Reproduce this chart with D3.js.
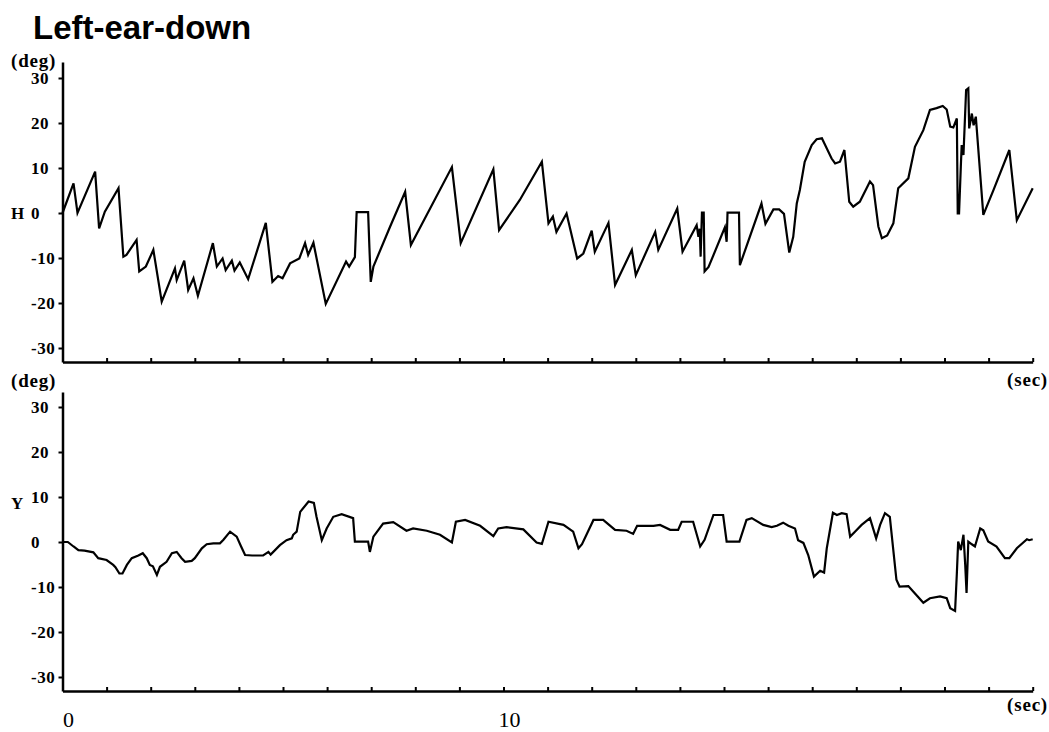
<!DOCTYPE html>
<html>
<head>
<meta charset="utf-8">
<script src="https://cdn.jsdelivr.net/npm/d3@7"></script>
<style>
  body { margin: 0; background: #fff; }
  svg { display: block; }
</style>
</head>
<body>
<div id="chart"></div>
<script>
// Head position traces, [sec, deg]
var hSeries = [
  [0, 0], [0.25, 6.6], [0.34, 0], [0.74, 9.2], [0.83, -3.4], [0.96, 0.3], [1.27, 5.5],
  [1.38, -9.7], [1.45, -9.3], [1.68, -6], [1.74, -13], [1.89, -11.9], [2.06, -8.2],
  [2.25, -19.7], [2.55, -12.3], [2.59, -14.9], [2.76, -10.6], [2.85, -17.1], [2.97, -14.5],
  [3.07, -18.4], [3.41, -6.7], [3.50, -11.9], [3.63, -10.1], [3.70, -12.7], [3.84, -10.6],
  [3.90, -12.8], [4.02, -11], [4.21, -14.7], [4.61, -2.2], [4.76, -15.3], [4.89, -14],
  [4.99, -14.5], [5.16, -11.2], [5.37, -10.1], [5.50, -6.7], [5.57, -9.3], [5.69, -6.6],
  [5.97, -20.2], [6.43, -10.8], [6.50, -11.9], [6.63, -9.8], [6.67, 0.2], [6.93, 0.2],
  [6.96, -7.8], [6.99, -15.3], [7.05, -11.9], [7.43, -3], [7.77, 4.7], [7.90, -7.1],
  [8.83, 10.2], [9.03, -6.7], [9.77, 9.7], [9.90, -3.8], [10.37, 2.9], [10.87, 11.4],
  [11.02, -2.3], [11.12, -0.8], [11.20, -4.2], [11.43, -0.1], [11.67, -10.1], [11.81, -9],
  [12.00, -3.9], [12.07, -8.6], [12.38, -2.2], [12.53, -16], [12.91, -8.2], [13.00, -13.8],
  [13.44, -4.2], [13.51, -8.2], [13.94, 1.0], [14.06, -8.6], [14.38, -2.7], [14.42, -5.3],
  [14.45, -3.5], [14.47, -9.7], [14.50, 0.1], [14.54, 0.1], [14.56, -13], [14.65, -12],
  [15.02, -3.2], [15.06, -6.4], [15.08, 0.1], [15.34, 0.1], [15.36, -11.6], [15.85, 2.1],
  [15.94, -2.4], [16.12, 0.8], [16.25, 0.8], [16.36, -0.2], [16.48, -8.8], [16.57, -5.3],
  [16.65, 2.1], [16.72, 5.1], [16.83, 11.4], [16.99, 15.1], [17.10, 16.4], [17.22, 16.6],
  [17.44, 12.1], [17.52, 11], [17.63, 11.4], [17.73, 14], [17.84, 2.5], [17.93, 1.4],
  [18.08, 2.5], [18.31, 7], [18.38, 6.2], [18.50, -3], [18.58, -5.6], [18.70, -5],
  [18.84, -2.3], [18.95, 5.5], [19.18, 7.7], [19.33, 14.7], [19.52, 18.4], [19.67, 22.9],
  [19.82, 23.3], [19.96, 23.8], [20.05, 23], [20.13, 19.2], [20.20, 19], [20.28, 21],
  [20.30, -0.1], [20.33, -0.1], [20.37, 10.3], [20.39, 15.1], [20.43, 12.9], [20.49, 27.3],
  [20.54, 27.7], [20.56, 18.8], [20.62, 22.1], [20.66, 19.5], [20.71, 21.4], [20.88, -0.4],
  [21.11, 5.1], [21.47, 14], [21.64, -1.6], [22.0, 5.5]
];

var ySeries = [
  [0, 0], [0.12, 0], [0.25, -1], [0.36, -1.8], [0.5, -1.9], [0.7, -2.3], [0.81, -3.6],
  [1.0, -4], [1.15, -5.1], [1.2, -5.6], [1.29, -7], [1.36, -7], [1.46, -5.1], [1.57, -3.6],
  [1.72, -3], [1.82, -2.5], [1.91, -3.6], [1.98, -5.1], [2.05, -5.4], [2.14, -7.3],
  [2.21, -5.5], [2.36, -4.4], [2.48, -2.5], [2.59, -2.2], [2.7, -3.6], [2.78, -4.4],
  [2.93, -4.2], [3.0, -3.6], [3.16, -1.4], [3.27, -0.5], [3.42, -0.3], [3.57, -0.3],
  [3.65, 0.5], [3.8, 2.3], [3.95, 1.2], [4.05, -1], [4.14, -2.9], [4.3, -3], [4.55, -3],
  [4.67, -2.2], [4.72, -2.8], [4.93, -0.7], [5.08, 0.4], [5.2, 0.8], [5.23, 1.6],
  [5.31, 2.3], [5.39, 6.7], [5.58, 9], [5.7, 8.7], [5.76, 5.6], [5.88, 0.4], [5.99, 3],
  [6.14, 5.6], [6.33, 6.2], [6.59, 5.3], [6.63, 0.1], [6.93, 0.1], [6.97, -2.2], [7.05, 1.2],
  [7.27, 4.1], [7.5, 4.4], [7.8, 2.5], [7.95, 3], [8.26, 2.5], [8.56, 1.6], [8.83, -0.1],
  [8.92, 4.5], [9.13, 4.9], [9.47, 3.6], [9.77, 1.3], [9.88, 3], [10.07, 3.3], [10.45, 2.8],
  [10.75, -0.1], [10.87, -0.4], [11.02, 4.5], [11.36, 3.8], [11.58, 2.3], [11.7, -1.4],
  [11.78, -0.5], [12.04, 4.9], [12.26, 4.9], [12.53, 2.7], [12.79, 2.5], [12.94, 1.8],
  [13.03, 3.6], [13.4, 3.6], [13.55, 3.8], [13.78, 2.7], [13.96, 2.7], [14.04, 4.5],
  [14.3, 4.5], [14.46, -1], [14.56, 0.5], [14.76, 6], [14.98, 6], [15.06, 0.1], [15.35, 0.1],
  [15.51, 4.9], [15.63, 5.3], [15.89, 3.8], [16.08, 3.3], [16.2, 3.6], [16.34, 4.3],
  [16.46, 3.6], [16.61, 3], [16.68, 0.4], [16.8, -0.2], [16.91, -2.9], [17.04, -7.7],
  [17.18, -6.4], [17.27, -6.8], [17.33, -1.4], [17.47, 6.5], [17.56, 6], [17.67, 6.4],
  [17.78, 6.2], [17.86, 1.2], [17.97, 2.3], [18.12, 3.8], [18.31, 5.3], [18.45, 0.8],
  [18.54, 3.8], [18.65, 6.4], [18.76, 5.6], [18.91, -8.4], [18.98, -9.9], [19.18, -9.8],
  [19.29, -11], [19.52, -13.5], [19.67, -12.5], [19.9, -12.1], [20.05, -12.5], [20.13, -14.7],
  [20.24, -15.3], [20.28, -7], [20.31, 0.1], [20.37, -1.8], [20.43, 1.6], [20.47, -5.1],
  [20.5, -11.3], [20.54, 0.1], [20.62, -0.5], [20.69, -1], [20.81, 3], [20.88, 2.6],
  [20.99, 0.1], [21.18, -1], [21.37, -3.6], [21.47, -3.6], [21.64, -1.4], [21.87, 0.6],
  [21.92, 0.4], [22.0, 0.6]
];

var xTicks = d3.range(0, 23);          // one tick per second
var xLabels = [0, 10];                 // only these are written
var yTicks = [-30, -20, -10, 0, 10, 20, 30];

var width = 1049, height = 732;

var svg = d3.select("#chart").append("svg")
  .attr("width", width)
  .attr("height", height);

var serif = "'Liberation Serif', 'Times New Roman', serif";

// Title
svg.append("text")
  .attr("x", 33)
  .attr("y", 39)
  .attr("font-family", "'Liberation Sans', Arial, sans-serif")
  .attr("font-weight", "bold")
  .attr("font-size", "33px")
  .text("Left-ear-down");

var x = d3.scaleLinear().domain([0, 22]).range([62.5, 1032.7]);

// the two panels
var panels = [
  { name: "H", data: hSeries, top: 62, bottom: 362, zero: 213, nameY: 213, secY: 386, degY: 67 },
  { name: "Y", data: ySeries, top: 392, bottom: 691, zero: 542, nameY: 503, secY: 711, degY: 387 }
];

panels.forEach(function(p) {
  var y = d3.scaleLinear()
    .domain([(p.zero - p.bottom) / 4.5, (p.zero - p.top) / 4.5])
    .range([p.bottom, p.top]);

  // y axis, ticks only
  var ya = svg.append("g")
    .attr("transform", "translate(" + x(0) + ",0)")
    .call(d3.axisLeft(y).tickValues(yTicks).tickSize(4).tickSizeOuter(0).tickFormat(""));
  ya.select(".domain").attr("stroke-width", 2.5);
  ya.selectAll(".tick line").attr("stroke-width", 2);

  // x axis, small ticks upward
  var xa = svg.append("g")
    .attr("transform", "translate(0," + p.bottom + ")")
    .call(d3.axisBottom(x).tickValues(xTicks).tickSize(-4).tickSizeOuter(0).tickFormat(""));
  xa.select(".domain").attr("stroke-width", 2.5);
  xa.selectAll(".tick line").attr("stroke-width", 2);

  // y tick labels, left aligned
  svg.selectAll(null)
    .data(yTicks)
    .enter()
    .append("text")
    .attr("x", 31)
    .attr("y", function(d) { return y(d); })
    .attr("dy", "0.36em")
    .attr("font-family", serif)
    .attr("font-weight", "bold")
    .attr("font-size", "17px")
    .attr("letter-spacing", "0.6px")
    .text(function(d) { return d; });

  // channel name
  svg.append("text")
    .attr("x", 11)
    .attr("y", p.nameY)
    .attr("dy", "0.36em")
    .attr("font-family", serif)
    .attr("font-weight", "bold")
    .attr("font-size", "17px")
    .text(p.name);

  // units
  svg.append("text")
    .attr("x", 11)
    .attr("y", p.degY)
    .attr("font-family", serif)
    .attr("font-weight", "bold")
    .attr("font-size", "19px")
    .attr("letter-spacing", "0.8px")
    .text("(deg)");
  svg.append("text")
    .attr("x", 1048)
    .attr("y", p.secY)
    .attr("text-anchor", "end")
    .attr("font-family", serif)
    .attr("font-weight", "bold")
    .attr("font-size", "19px")
    .attr("letter-spacing", "0.8px")
    .text("(sec)");

  // trace
  var line = d3.line()
    .x(function(d) { return x(d[0]); })
    .y(function(d) { return y(d[1]); });
  svg.append("path")
    .datum(p.data)
    .attr("d", line)
    .attr("fill", "none")
    .attr("stroke", "#000")
    .attr("stroke-width", 2.2)
    .attr("stroke-linejoin", "miter");
});

// time labels under the lower panel
svg.selectAll(null)
  .data(xLabels)
  .enter()
  .append("text")
  .attr("x", function(d) { return x(d) + 6; })
  .attr("y", 727)
  .attr("text-anchor", "middle")
  .attr("font-family", serif)
  .attr("font-size", "22px")
  .text(function(d) { return d; });
</script>
</body>
</html>
